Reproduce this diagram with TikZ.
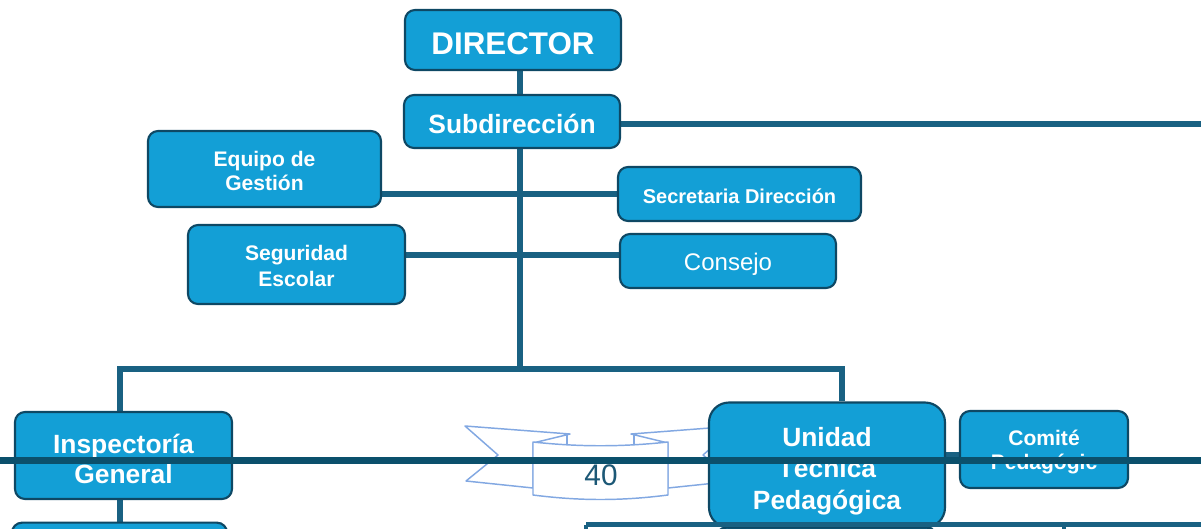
\documentclass[tikz,border=0pt]{standalone}
\usepackage{fontspec}
\setmainfont{Liberation Sans}
\usetikzlibrary{backgrounds}
\definecolor{boxblue}{RGB}{19,159,214}
\definecolor{boxedge}{RGB}{14,72,100}
\definecolor{linkc}{RGB}{25,97,130}
\definecolor{bandc}{RGB}{11,80,108}
\definecolor{ribbonc}{RGB}{130,168,226}
\definecolor{numc}{RGB}{28,88,118}
\begin{document}
\begin{tikzpicture}[x=0.75pt,y=-0.75pt,
  orgbox/.style={draw=boxedge, fill=boxblue, line width=1.6pt, rounded corners=7.5pt,
    inner sep=0pt},
  txt/.style={text=white, align=center, inner sep=0pt},
  link/.style={draw=linkc, line width=3.8pt},
  band/.style={draw=bandc, line width=5.25pt},
  ribbon/.style={draw=ribbonc, line width=1.1pt, fill=white, line join=round}]
\useasboundingbox (0,0) rectangle (1201,528);
\clip (0,0) rectangle (1201,528);

% ribbon banner
\draw[ribbon] (570,434) -- (465,426) -- (498,455) -- (466,481) -- (533,488) -- (533,443) -- cycle;
\draw[ribbon] (631,434) -- (736,426) -- (703,455) -- (735,481) -- (668,488) -- (668,443) -- cycle;
\draw[ribbon] (567,434) -- (567,444);
\draw[ribbon] (634,434) -- (634,444);
\draw[ribbon] (533,442) .. controls (580,447) and (621,447) .. (668,442) -- (668,495)
  .. controls (621,501) and (580,501) .. (533,495) -- cycle;
\node[text=numc, font=\fontsize{22.3}{26}\selectfont] (num) at (601,475) {40};

% boxes
\node[orgbox, minimum width=162pt, minimum height=45pt,
  label={[txt, yshift=-3pt, font=\bfseries\fontsize{23.5}{28}\selectfont]center:DIRECTOR}] (dir) at (513,40) {};
\node[orgbox, minimum width=162pt, minimum height=39.75pt,
  label={[txt, yshift=-1.6pt, font=\bfseries\fontsize{19.8}{24}\selectfont]center:Subdirección}] (sub) at (512,121.5) {};
\node[orgbox, minimum width=174.75pt, minimum height=57pt,
  label={[txt, yshift=-1.6pt, font=\bfseries\fontsize{15.8}{18}\selectfont]center:{Equipo de\\Gestión}}] (eq) at (264.5,169) {};
\node[orgbox, minimum width=182.25pt, minimum height=40.5pt,
  label={[txt, yshift=-1.5pt, font=\bfseries\fontsize{15}{18}\selectfont]center:Secretaria Dirección}] (sec) at (739.5,194) {};
\node[orgbox, minimum width=162.75pt, minimum height=59.25pt,
  label={[txt, yshift=-0.8pt, font=\bfseries\fontsize{15.8}{19.5}\selectfont]center:{Seguridad\\Escolar}}] (seg) at (296.5,264.5) {};
\node[orgbox, minimum width=162pt, minimum height=40.5pt,
  label={[txt, yshift=-2.2pt, font=\fontsize{18}{22}\selectfont]center:Consejo}] (con) at (728,261) {};
\node[orgbox, minimum width=162.75pt, minimum height=65.25pt,
  label={[txt, yshift=-2.3pt, font=\bfseries\fontsize{19.8}{22.5}\selectfont]center:{Inspectoría\\General}}] (insp) at (123.5,455.5) {};
\node[orgbox, minimum width=161.25pt, minimum height=56pt] (insp2) at (119.5,560) {};
\node[orgbox, minimum width=165.75pt, minimum height=56pt] (uni2) at (826.5,565) {};
\node[orgbox, rounded corners=15pt, minimum width=177pt, minimum height=93.75pt,
  label={[txt, yshift=-4.6pt, font=\bfseries\fontsize{19.8}{23.5}\selectfont]center:{Unidad\\Técnica\\Pedagógica}}] (uni) at (827,465) {};
\node[orgbox, minimum width=126pt, minimum height=57.75pt,
  label={[txt, yshift=-1.9pt, font=\bfseries\fontsize{15.8}{18}\selectfont]center:{Comité\\Pedagógic}}] (com) at (1044,449.5) {};

% reference coordinates
\coordinate (spine) at (520,0);
\coordinate (rightedge) at (1201,124);
\coordinate (branch) at (520,369);
\coordinate (bl) at (120,369);
\coordinate (br) at (842,369);
\coordinate (segy) at (0,255);
\coordinate (stuby) at (0,455);
\coordinate (botl) at (586,524.5);
\coordinate (botr) at (1201,524.5);
\coordinate (tick1) at (586,530);
\coordinate (tick2top) at (1064,524.5);
\coordinate (tick2) at (1064,530);
\coordinate (bandl) at (0,460.5);
\coordinate (bandr) at (1201,460.5);

% connectors
\begin{scope}[on background layer]
\draw[link] (dir.south -| spine) -- (sub.north -| spine);
\draw[link] (sub.south -| spine) -- (branch);
\draw[link] (sub.east |- rightedge) -- (rightedge);
\draw[link] (eq.east |- sec.west) -- (sec.west);
\draw[link] (seg.east |- segy) -- (con.west |- segy);
\draw[link] (insp.north -| bl) -- (bl) -- (br) -- (uni.north -| br);
\draw[link] (insp.south -| bl) -- (insp2.north -| bl);
\draw[link, line width=5pt] (uni.east |- stuby) -- (com.west |- stuby);
\end{scope}

% overlaid page rules
\draw[link, line width=3.5pt] (botl) -- (botr);
\draw[link, line width=2.5pt] (botl) -- (tick1);
\draw[link, line width=2.5pt] (tick2top) -- (tick2);
\draw[band] (bandl) -- (bandr);
\end{tikzpicture}
\end{document}
